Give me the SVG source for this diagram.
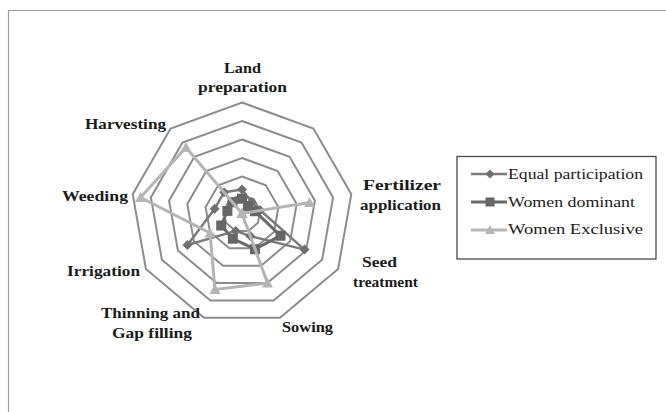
<svg xmlns="http://www.w3.org/2000/svg" width="666" height="412" viewBox="0 0 666 412">
<defs>
<style>
.ring{fill:none;stroke:#8c8c8c;stroke-width:2;stroke-linejoin:miter}
.lbl{font-family:"Liberation Serif","Times New Roman",serif;font-weight:bold;font-size:15px;fill:#1a1a1a}
.leg{font-family:"Liberation Serif","Times New Roman",serif;font-size:14.5px;fill:#1a1a1a}
.eq{fill:none;stroke:#7b7b7b;stroke-width:2.5;stroke-linejoin:round}
.dom{fill:none;stroke:#6a6a6a;stroke-width:3;stroke-linejoin:round}
.exc{fill:none;stroke:#b5b5b5;stroke-width:3;stroke-linejoin:round}
</style>
<marker id="mDia" markerUnits="userSpaceOnUse" markerWidth="12" markerHeight="12" refX="6" refY="6" orient="0" overflow="visible">
<path d="M6,1 L11,6 L6,11 L1,6 Z" fill="#6f6f6f"/>
</marker>
<marker id="mSq" markerUnits="userSpaceOnUse" markerWidth="12" markerHeight="12" refX="6" refY="6" orient="0" overflow="visible">
<rect x="1" y="1" width="10" height="10" fill="#666666"/>
</marker>
<marker id="mTri" markerUnits="userSpaceOnUse" markerWidth="12" markerHeight="12" refX="6" refY="6" orient="0" overflow="visible">
<path d="M6,0.5 L11.5,10.5 L0.5,10.5 Z" fill="#b5b5b5"/>
</marker>
</defs>
<rect x="0" y="0" width="666" height="412" fill="#ffffff"/>
<g id="frame" fill="none" stroke="#a0a0a0" stroke-width="1.2">
<path d="M8.5,412 L8.5,10.5 L666,10.5"/>
</g>
<g id="grid">
<polygon class="ring" points="242,102.5 313.4,128.5 351.3,194.2 338.1,269 280,317.8 204,317.8 145.9,269 132.7,194.2 170.6,128.5"/>
<polygon class="ring" points="242,121 301.5,142.6 333.1,197.4 322.1,259.8 273.6,300.4 210.4,300.4 161.9,259.8 150.9,197.4 182.5,142.6"/>
<polygon class="ring" points="242,139.5 289.6,156.8 314.9,200.7 306.1,250.5 267.3,283 216.7,283 177.9,250.5 169.1,200.7 194.4,156.8"/>
<polygon class="ring" points="242,158 277.7,171 296.7,203.9 290.1,241.3 261,265.7 223,265.7 193.9,241.3 187.3,203.9 206.3,171"/>
<polygon class="ring" points="242,176.5 265.8,185.2 278.4,207.1 274,232 254.7,248.3 229.4,248.3 210,232 205.6,207.1 218.2,185.2"/>
<polygon class="ring" points="242,195 253.9,199.3 260.2,210.3 258,222.8 248.3,230.9 235.7,230.9 226,222.8 223.8,210.3 230.1,199.3"/>
</g>
<g id="series">
<g id="equal-participation">
<polyline class="eq" marker-start="url(#mDia)" marker-mid="url(#mDia)" points="242,189.5 251.5,202.2 260.2,210.3 304.5,249.6 250.2,236.1 235.7,230.9 187.5,245 214.7,208.7 224.2,192.2 242,189.5"/>
</g>
<g id="women-dominant">
<polyline class="dom" marker-start="url(#mSq)" marker-mid="url(#mSq)" points="242,198.7 247.9,206.4 254.8,211.2 280.5,235.7 255,249.2 232.8,238.7 221.2,225.5 227.4,210.9 232.5,202.2 242,198.7"/>
</g>
<g id="women-exclusive">
<polyline class="exc" marker-start="url(#mTri)" marker-mid="url(#mTri)" points="242,213.5 242,213.5 309.5,202.5 242,213.5 267.5,283 215,289.5 210,233 140.5,197.5 186,147.5 242,213.5"/>
</g>
</g>
<g id="axis-labels">
<text class="lbl" x="224" y="73" textLength="37" lengthAdjust="spacingAndGlyphs">Land</text>
<text class="lbl" x="198" y="92" textLength="89" lengthAdjust="spacingAndGlyphs">preparation</text>
<text class="lbl" x="363" y="190" textLength="78" lengthAdjust="spacingAndGlyphs">Fertilizer</text>
<text class="lbl" x="360" y="210" textLength="81" lengthAdjust="spacingAndGlyphs">application</text>
<text class="lbl" x="362" y="267" textLength="35" lengthAdjust="spacingAndGlyphs">Seed</text>
<text class="lbl" x="353" y="287" textLength="65" lengthAdjust="spacingAndGlyphs">treatment</text>
<text class="lbl" x="282" y="332" textLength="51" lengthAdjust="spacingAndGlyphs">Sowing</text>
<text class="lbl" x="101" y="318" textLength="99" lengthAdjust="spacingAndGlyphs">Thinning and</text>
<text class="lbl" x="112" y="338" textLength="80" lengthAdjust="spacingAndGlyphs">Gap filling</text>
<text class="lbl" x="67" y="276" textLength="73" lengthAdjust="spacingAndGlyphs">Irrigation</text>
<text class="lbl" x="62" y="201" textLength="66" lengthAdjust="spacingAndGlyphs">Weeding</text>
<text class="lbl" x="85" y="129" textLength="81" lengthAdjust="spacingAndGlyphs">Harvesting</text>
</g>
<g id="legend">
<rect x="457" y="156.5" width="199" height="102.5" fill="#ffffff" stroke="#4a4a4a" stroke-width="1.3"/>
<line class="eq" x1="471" y1="174" x2="507" y2="174"/>
<path d="M490,169.5 L494.5,174 L490,178.5 L485.5,174 Z" fill="#6f6f6f"/>
<text class="leg" x="508" y="179" textLength="135" lengthAdjust="spacingAndGlyphs">Equal participation</text>
<line class="dom" x1="471" y1="202" x2="507" y2="202"/>
<rect x="485.5" y="197.5" width="9" height="9" fill="#666666"/>
<text class="leg" x="508" y="206.5" textLength="127" lengthAdjust="spacingAndGlyphs">Women dominant</text>
<line class="exc" x1="471" y1="230" x2="507" y2="230"/>
<path d="M490,225 L495,234 L485,234 Z" fill="#b5b5b5"/>
<text class="leg" x="508" y="234" textLength="135" lengthAdjust="spacingAndGlyphs">Women Exclusive</text>
</g>
</svg>
